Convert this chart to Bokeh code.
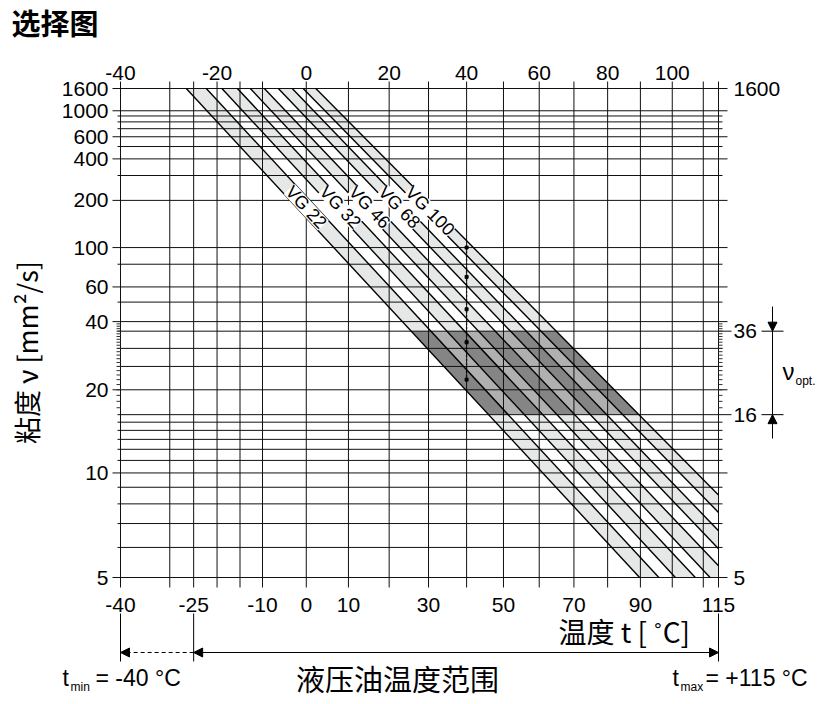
import numpy as np
from bokeh.plotting import figure
from bokeh.models import Range1d, Arrow, NormalHead
from bokeh.core.properties import value
from bokeh.embed import file_html
from bokeh.resources import INLINE

# ---------------- data ----------------
temp_grid = [-40, -30, -25, -20, -15, -10, 0, 10, 20, 30, 40, 50, 60, 70, 80, 90, 100, 110, 115]
temp_bottom_labels = [-40, -25, -10, 0, 10, 30, 50, 70, 90, 115]
temp_top_labels = [-40, -20, 0, 20, 40, 60, 80, 100]
visc_grid = [1600, 1000, 900, 800, 700, 600, 500, 400, 300, 200, 100, 80, 60, 50, 40, 36,
             30, 25, 20, 16, 15, 14, 13, 12, 11, 10, 9, 8, 7, 6, 5]
visc_left_labels = [1600, 1000, 600, 400, 200, 100, 60, 40, 20, 10, 5]
visc_right_labels = [1600, 36, 16, 5]
visc_small_ticks = list(range(17, 40))
vg_names = ["VG 22", "VG 32", "VG 46", "VG 68", "VG 100"]
vg_nu40 = [22, 32, 46, 68, 100]
band_lo_nu40 = [19.8, 28.8, 41.4, 61.2, 90.0]
band_hi_nu40 = [24.2, 35.2, 50.6, 74.8, 110.0]
band_lo_nu100 = [4.1, 5.1, 6.4, 8.2, 10.6]
band_hi_nu100 = [4.6, 5.8, 7.3, 9.3, 12.1]
label_nu = [180, 180, 180, 180, 170]
nu_opt = [16, 36]
t_min, t_split, t_max = -40, -25, 115


# Walther chart coordinates: x = log(T_abs), y = log(log(nu + 0.7))
def TX(t):
    return np.log10(np.asarray(t, dtype=float) + 273.15)


def TY(nu):
    return np.log10(np.log10(np.asarray(nu, dtype=float) + 0.7))


def fl(a):
    return [float(v) for v in np.atleast_1d(a)]


X0, X1 = float(TX(-40)), float(TX(115))
Y0, Y1 = float(TY(5)), float(TY(1600))

# pixel box of the chart area on the canvas
W, H = 830, 700
FL, FR, FT, FB = 120, 718, 88, 577
kx = (X1 - X0) / (FR - FL)
ky = (Y1 - Y0) / (FB - FT)


def px2x(px):
    return X0 + (px - FL) * kx


def py2y(py):
    return Y0 + (FB - py) * ky


p = figure(width=W, height=H, x_range=Range1d(px2x(0), px2x(W)), y_range=Range1d(py2y(H), py2y(0)),
           output_backend="svg", toolbar_location=None, min_border=0,
           x_axis_location=None, y_axis_location=None)
p.xgrid.visible = False
p.ygrid.visible = False
p.outline_line_color = None
p.background_fill_color = "white"
p.border_fill_color = "white"

# ---------- helper geometry ----------
xa, xb = float(TX(40)), float(TX(100))


def line_of(n40, n100):
    ya, yb = float(TY(n40)), float(TY(n100))
    return ya, (yb - ya) / (xb - xa)


def y_at(line, x):
    return line[0] + line[1] * (x - xa)


def x_at(line, y):
    return xa + (y - line[0]) / line[1]


def clip_poly(pts):
    def clip(pts, inside, inter):
        out = []
        n = len(pts)
        for i in range(n):
            cur, prev = pts[i], pts[i - 1]
            if inside(cur):
                if not inside(prev):
                    out.append(inter(prev, cur))
                out.append(cur)
            elif inside(prev):
                out.append(inter(prev, cur))
        return out

    def ix(c):
        return lambda a, b: (c, a[1] + (b[1] - a[1]) * (c - a[0]) / (b[0] - a[0]))

    def iy(c):
        return lambda a, b: (a[0] + (b[0] - a[0]) * (c - a[1]) / (b[1] - a[1]), c)

    pts = clip(pts, lambda q: q[0] >= X0, ix(X0))
    pts = clip(pts, lambda q: q[0] <= X1, ix(X1))
    pts = clip(pts, lambda q: q[1] >= Y0, iy(Y0))
    pts = clip(pts, lambda q: q[1] <= Y1, iy(Y1))
    return pts


lo_lines = [line_of(a, b) for a, b in zip(band_lo_nu40, band_lo_nu100)]
hi_lines = [line_of(a, b) for a, b in zip(band_hi_nu40, band_hi_nu100)]
XL, XR = float(TX(-80)), float(TX(180))

# light bands
bx, by = [], []
for lo, hi in zip(lo_lines, hi_lines):
    poly = clip_poly([(XL, y_at(lo, XL)), (XR, y_at(lo, XR)), (XR, y_at(hi, XR)), (XL, y_at(hi, XL))])
    bx.append([q[0] for q in poly])
    by.append([q[1] for q in poly])
p.patches(bx, by, fill_color="#e6e7e7", line_color=None)

# optimum viscosity zone
Y16, Y36 = float(TY(nu_opt[0])), float(TY(nu_opt[1]))
zx = [x_at(lo_lines[0], Y36), x_at(hi_lines[-1], Y36), x_at(hi_lines[-1], Y16), x_at(lo_lines[0], Y16)]
p.patch(zx, [Y36, Y36, Y16, Y16], fill_color="#b0b0b0", line_color=None)
dx_, dy_ = [], []
for lo, hi in zip(lo_lines, hi_lines):
    dx_.append([x_at(lo, Y36), x_at(hi, Y36), x_at(hi, Y16), x_at(lo, Y16)])
    dy_.append([Y36, Y36, Y16, Y16])
p.patches(dx_, dy_, fill_color="#858585", line_color=None)

# ---------- grid lines with their tick extensions ----------
vx = fl(TX(temp_grid))
p.segment(x0=vx, y0=[py2y(FB + 10)] * len(vx), x1=vx, y1=[py2y(FT - 7)] * len(vx),
          line_color="#111111", line_width=1)
hy = fl(TY(visc_grid))
left_ext = [8 if v in visc_left_labels else 3 for v in visc_grid]
right_ext = [13 if v in (36, 16) else (9 if v in visc_left_labels else 4) for v in visc_grid]
p.segment(x0=[px2x(FL - e) for e in left_ext], y0=hy, x1=[px2x(FR + e) for e in right_ext], y1=hy,
          line_color="#111111", line_width=1)
# small ticks
sy_ = fl(TY(visc_small_ticks))
p.segment(x0=[px2x(FL - 4)] * len(sy_), y0=sy_, x1=[X0] * len(sy_), y1=sy_, line_color="#333333", line_width=1)
p.segment(x0=[X1] * len(sy_), y0=sy_, x1=[px2x(FR + 4)] * len(sy_), y1=sy_, line_color="#333333", line_width=1)

# ---------- diagonal lines ----------
lx0, ly0, lx1, ly1 = [], [], [], []
for ln in lo_lines + hi_lines:
    xs = max(X0, x_at(ln, Y1))
    xe = min(X1, x_at(ln, Y0))
    lx0.append(xs); ly0.append(y_at(ln, xs)); lx1.append(xe); ly1.append(y_at(ln, xe))
p.segment(x0=lx0, y0=ly0, x1=lx1, y1=ly1, line_color="black", line_width=1.4)

# dotted reference at 40 C
p.segment(x0=[xa], y0=[float(TY(vg_nu40[-1]))], x1=[xa], y1=[float(TY(vg_nu40[0]))],
          line_color="black", line_width=1.5, line_dash="1 3")
p.scatter(x=[xa] * len(vg_nu40), y=fl(TY(vg_nu40)), marker="square", size=3, color="black")

# VG labels
sxp = 1.0 / kx
syp = 1.0 / ky
for name, lo, hi, ln in zip(vg_names, lo_lines, hi_lines, label_nu):
    yl = float(TY(ln))
    xl = 0.5 * (x_at(lo, yl) + x_at(hi, yl))
    m = 0.5 * (lo[1] + hi[1])
    ang = float(np.arctan2(m * syp, sxp))
    p.rect(x=[xl], y=[yl], width=[60 if len(name) > 5 else 50], height=[15], width_units="screen",
           height_units="screen", angle=ang, fill_color="white", line_color=None)
    p.text(x=[xl], y=[yl], text=[name], angle=ang, text_font=value("Liberation Sans"),
           text_font_size="18px", text_align="center", text_baseline="middle", text_color="black")

# ---------- tick labels ----------
FONT = value("Liberation Sans")
FS = "21px"
p.text(x=fl(TX(temp_bottom_labels)), y=[py2y(604)] * len(temp_bottom_labels),
       text=[str(t) for t in temp_bottom_labels], text_font=FONT, text_font_size=FS,
       text_align="center", text_baseline="middle", text_color="black")
p.text(x=fl(TX(temp_top_labels)), y=[py2y(72)] * len(temp_top_labels),
       text=[str(t) for t in temp_top_labels], text_font=FONT, text_font_size=FS,
       text_align="center", text_baseline="middle", text_color="black")
p.text(x=[px2x(108)] * len(visc_left_labels), y=fl(TY(visc_left_labels)),
       text=[str(v) for v in visc_left_labels], text_font=FONT, text_font_size=FS,
       text_align="right", text_baseline="middle", text_color="black")
p.text(x=[px2x(733)] * len(visc_right_labels), y=fl(TY(visc_right_labels)),
       text=[str(v) for v in visc_right_labels], text_font=FONT, text_font_size=FS,
       text_align="left", text_baseline="middle", text_color="black")

CJK = value("Noto Sans CJK SC")
p.text(x=[px2x(26)], y=[py2y(352)], text=["粘度 ν [mm²/s]"], angle=np.pi / 2, text_font=CJK,
       text_font_size="27px", text_align="center", text_baseline="middle", text_color="black")
p.text(x=[px2x(11)], y=[py2y(21)], text=["选择图"], text_font=CJK, text_font_style="bold",
       text_font_size="29px", text_align="left", text_baseline="middle", text_color="black")
p.text(x=[px2x(558)], y=[py2y(630)], text=["温度 t [ ˚C]"], text_font=CJK,
       text_font_size="28px", text_align="left", text_baseline="middle", text_color="black")

# ---------- temperature range indicator ----------
y_top_ind, y_bot_ind, y_arr = py2y(613), py2y(661), py2y(652)
ind_x = fl(TX([t_min, t_split, t_max]))
p.segment(x0=ind_x, y0=[y_top_ind] * 3, x1=ind_x, y1=[y_bot_ind] * 3, line_color="black", line_width=1)
head = dict(size=9, fill_color="black", line_color="black")
p.add_layout(Arrow(x_start=float(TX(t_split)), y_start=y_arr, x_end=float(TX(t_min)), y_end=y_arr,
                   end=NormalHead(**head), start=None, line_dash="4 3", line_width=1))
p.add_layout(Arrow(x_start=float(TX(t_split)), y_start=y_arr, x_end=float(TX(t_max)), y_end=y_arr,
                   start=NormalHead(**head), end=NormalHead(**head), line_width=1))
p.text(x=[px2x(397)], y=[py2y(677)], text=["液压油温度范围"], text_font=CJK,
       text_font_size="29px", text_align="center", text_baseline="middle", text_color="black")

p.text(x=[px2x(62), px2x(672)], y=[py2y(677)] * 2, text=["t", "t"], text_font=FONT,
       text_font_size="23px", text_align="left", text_baseline="middle", text_color="black")
p.text(x=[px2x(70), px2x(680)], y=[py2y(686)] * 2, text=["min", "max"], text_font=FONT,
       text_font_size="12px", text_align="left", text_baseline="middle", text_color="black")
p.text(x=[px2x(95), px2x(705)], y=[py2y(677)] * 2, text=["= -40 °C", "= +115 °C"], text_font=FONT,
       text_font_size="23px", text_align="left", text_baseline="middle", text_color="black")

# ---------- nu_opt marker ----------
xv = px2x(772)
p.segment(x0=[xv], y0=[py2y(306)], x1=[xv], y1=[py2y(438)], line_color="black", line_width=1)
p.add_layout(Arrow(x_start=xv, y_start=py2y(312), x_end=xv, y_end=Y36, start=None,
                   end=NormalHead(**head), line_width=1))
p.add_layout(Arrow(x_start=xv, y_start=py2y(436), x_end=xv, y_end=Y16, start=None,
                   end=NormalHead(**head), line_width=1))
p.segment(x0=[px2x(761)] * 2, y0=[Y36, Y16], x1=[px2x(783)] * 2, y1=[Y36, Y16],
          line_color="black", line_width=1)
p.text(x=[px2x(782)], y=[py2y(371)], text=["ν"], text_font=FONT, text_font_size="24px",
       text_align="left", text_baseline="middle", text_color="black")
p.text(x=[px2x(795)], y=[py2y(380)], text=["opt."], text_font=FONT, text_font_size="12px",
       text_align="left", text_baseline="middle", text_color="black")

open("out.html", "w").write(file_html(p, INLINE))
